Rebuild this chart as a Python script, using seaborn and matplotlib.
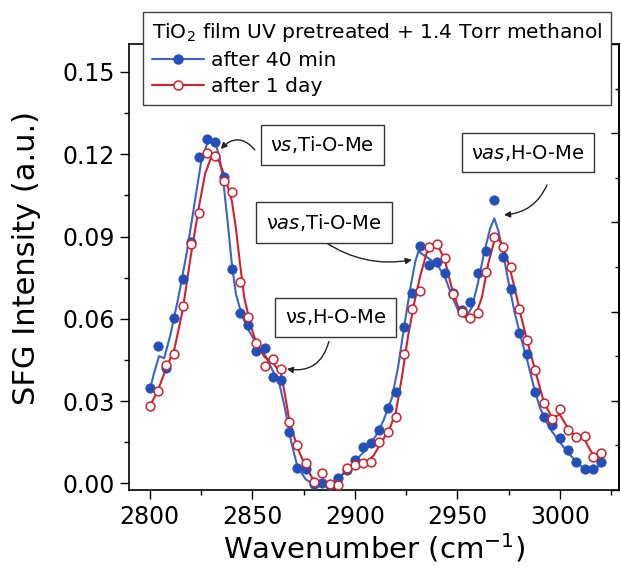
import matplotlib
matplotlib.use("Agg")
import matplotlib.pyplot as plt
from matplotlib.lines import Line2D
from matplotlib.ticker import MultipleLocator, FormatStrFormatter
import numpy as np
import pandas as pd
import seaborn as sns

# Measured SFG intensities (a.u.) vs. wavenumber (cm^-1)
wavenumber = [2800, 2804, 2808, 2812, 2816, 2820, 2824, 2828, 2832, 2836,
              2840, 2844, 2848, 2852, 2856, 2860, 2864, 2868, 2872, 2876,
              2880, 2884, 2888, 2892, 2896, 2900, 2904, 2908, 2912, 2916,
              2920, 2924, 2928, 2932, 2936, 2940, 2944, 2948, 2952, 2956,
              2960, 2964, 2968, 2972, 2976, 2980, 2984, 2988, 2992, 2996,
              3000, 3004, 3008, 3012, 3016, 3020]

after_40min = [0.0346, 0.0501, 0.0419, 0.0602, 0.0744, 0.0880, 0.1191, 0.1255, 0.1246, 0.1116,
               0.0780, 0.0620, 0.0577, 0.0484, 0.0492, 0.0387, 0.0377, 0.0188, 0.0057, 0.0051,
               -0.0003, 0.0000, -0.0006, 0.0018, 0.0048, 0.0085, 0.0134, 0.0146, 0.0194, 0.0273,
               0.0334, 0.0571, 0.0693, 0.0867, 0.0796, 0.0808, 0.0766, 0.0695, 0.0632, 0.0662,
               0.0766, 0.0847, 0.1033, 0.0826, 0.0708, 0.0547, 0.0470, 0.0334, 0.0243, 0.0213,
               0.0164, 0.0121, 0.0079, 0.0051, 0.0051, 0.0079]

after_1day = [0.0282, 0.0337, 0.0431, 0.0472, 0.0647, 0.0873, 0.0985, 0.1203, 0.1194, 0.1104,
              0.1064, 0.0735, 0.0608, 0.0511, 0.0428, 0.0452, 0.0416, 0.0222, 0.0140, 0.0074,
              0.0006, 0.0036, -0.0003, -0.0006, 0.0055, 0.0067, 0.0073, 0.0079, 0.0152, 0.0188,
              0.0240, 0.0472, 0.0635, 0.0702, 0.0863, 0.0873, 0.0820, 0.0691, 0.0623, 0.0601,
              0.0622, 0.0772, 0.0899, 0.0863, 0.0790, 0.0635, 0.0523, 0.0413, 0.0292, 0.0235,
              0.0270, 0.0194, 0.0168, 0.0172, 0.0095, 0.0109]

# Fitted spectra
fit_40min_wn = [2800, 2802, 2804.5, 2807, 2810, 2814, 2818, 2822, 2825, 2828,
                2830, 2832, 2834, 2836, 2838, 2840, 2842, 2845, 2848, 2852,
                2856, 2860, 2863, 2866, 2869, 2872, 2876, 2880, 2885, 2890,
                2895, 2900, 2905, 2910, 2914, 2918, 2921, 2924, 2927, 2929.5,
                2931, 2933, 2936, 2940, 2944, 2948, 2951, 2954, 2957, 2960,
                2963, 2966, 2968, 2970, 2972, 2975, 2978, 2981, 2984, 2987,
                2990, 2993, 2996, 3000, 3004, 3008, 3012, 3016, 3020]
fit_40min = [0.034, 0.040, 0.0464, 0.0456, 0.054, 0.068, 0.084, 0.103, 0.117, 0.124,
             0.1255, 0.124, 0.119, 0.109, 0.095, 0.080, 0.069, 0.061, 0.056, 0.051,
             0.047, 0.041, 0.037, 0.027, 0.015, 0.006, 0.0015, -0.0005, -0.001, 0.0005,
             0.004, 0.008, 0.012, 0.017, 0.023, 0.031, 0.042, 0.057, 0.071, 0.081,
             0.0845, 0.0835, 0.082, 0.080, 0.075, 0.067, 0.062, 0.0605, 0.064, 0.073,
             0.084, 0.093, 0.0966, 0.092, 0.085, 0.073, 0.062, 0.053, 0.045, 0.036,
             0.028, 0.023, 0.019, 0.015, 0.011, 0.008, 0.005, 0.0045, 0.007]

fit_1day_wn = [2800, 2804, 2808, 2812, 2816, 2820, 2824, 2827, 2830, 2832,
               2834, 2837, 2840, 2842, 2844, 2846, 2849, 2852, 2856, 2860,
               2864, 2866, 2868, 2872, 2876, 2880, 2885, 2890, 2895, 2900,
               2905, 2909, 2913, 2917, 2920, 2923, 2926, 2929, 2932, 2935,
               2938, 2941, 2944, 2947, 2950, 2953, 2956, 2959, 2962, 2965,
               2968, 2970, 2972, 2975, 2978, 2981, 2984, 2988, 2992, 2996,
               3000, 3004, 3008, 3012, 3016, 3020]
fit_1day = [0.028, 0.034, 0.042, 0.049, 0.063, 0.083, 0.101, 0.113, 0.119, 0.1195,
            0.117, 0.111, 0.103, 0.093, 0.080, 0.068, 0.058, 0.051, 0.046, 0.044,
            0.040, 0.032, 0.023, 0.013, 0.006, 0.001, 0.0005, 0.0, 0.004, 0.0065,
            0.0075, 0.010, 0.015, 0.020, 0.026, 0.039, 0.054, 0.066, 0.076, 0.084,
            0.0865, 0.086, 0.081, 0.072, 0.065, 0.061, 0.0595, 0.0615, 0.068, 0.080,
            0.0885, 0.089, 0.087, 0.080, 0.071, 0.061, 0.052, 0.041, 0.030, 0.024,
            0.025, 0.020, 0.017, 0.016, 0.0105, 0.0105]

legend_title = "TiO$_2$ film UV pretreated + 1.4 Torr methanol"
series_labels = ["after 40 min", "after 1 day"]

BLUE_DOT = "#2250b8"
BLUE_LINE = "#3b63cc"
RED = "#d4202b"

sns.set_style("ticks")
plt.rcParams["font.family"] = ["DejaVu Sans"]
plt.rcParams["mathtext.fontset"] = "dejavusans"
plt.rcParams["text.color"] = "black"
plt.rcParams["axes.labelcolor"] = "black"

fig = plt.figure(figsize=(6.21, 5.73), dpi=100)
ax = fig.add_axes([129.3 / 621, 1 - 490 / 573, (619 - 129.3) / 621, (490 - 44) / 573])

fit_blue = pd.DataFrame({"wn": fit_40min_wn, "I": fit_40min})
fit_red = pd.DataFrame({"wn": fit_1day_wn, "I": fit_1day})
pts = pd.DataFrame({"wn": wavenumber, "blue": after_40min, "red": after_1day})

sns.lineplot(data=fit_blue, x="wn", y="I", ax=ax, color=BLUE_LINE, lw=1.5,
             sort=False, estimator=None, zorder=2)
sns.lineplot(data=fit_red, x="wn", y="I", ax=ax, color=RED, lw=1.5,
             sort=False, estimator=None, zorder=2.1)
sns.scatterplot(data=pts, x="wn", y="blue", ax=ax, color=BLUE_DOT, s=46,
                edgecolor=BLUE_DOT, linewidth=0.5, zorder=3)
sns.scatterplot(data=pts, x="wn", y="red", ax=ax, facecolor="white", s=40,
                edgecolor=RED, linewidth=1.1, zorder=3.2)

ax.set_xlim(2790, 3028.8)
ax.set_ylim(-0.00244, 0.1602)
ax.xaxis.set_major_locator(MultipleLocator(50))
ax.xaxis.set_minor_locator(MultipleLocator(25))
ax.yaxis.set_major_locator(MultipleLocator(0.03))
ax.yaxis.set_minor_locator(MultipleLocator(0.015))
ax.yaxis.set_major_formatter(FormatStrFormatter("%.2f"))
ax.tick_params(which="major", direction="out", length=6.5, width=1.0,
               labelsize=17, pad=4, color="black", labelcolor="black")
ax.tick_params(which="minor", direction="out", length=3.6, width=1.0, color="black")
for sp in ax.spines.values():
    sp.set_linewidth(1.2)
    sp.set_color("black")

ax.set_xlabel("Wavenumber (cm$^{-1}$)", fontsize=21, labelpad=2)
ax.set_ylabel("SFG Intensity (a.u.)", fontsize=22)
ax.yaxis.set_label_coords(-0.18, 0.52)

# mirrored right-hand axis with inward ticks
ax2 = ax.twinx()
ax2.set_ylim(0, 10)
ax2.yaxis.set_major_locator(MultipleLocator(2))
ax2.yaxis.set_minor_locator(MultipleLocator(1))
ax2.tick_params(which="major", direction="in", length=5.8, width=1.0,
                labelright=False, color="black")
ax2.tick_params(which="minor", direction="in", length=2.9, width=1.0, color="black")
for side in ("top", "left", "bottom"):
    ax2.spines[side].set_visible(False)
ax2.spines["right"].set_linewidth(1.2)
ax2.spines["right"].set_color("black")
ax2.set_ylabel("")

# peak assignments
box = dict(boxstyle="square,pad=0.5", facecolor="white", edgecolor="#333333", linewidth=1.0)
labels = [
    ("ν$\\mathit{s}$,Ti-O-Me", (2884.1, 0.1234), (2851.2, 0.1216), (2834.6, 0.1219), 0.55),
    ("ν$\\mathit{as}$,Ti-O-Me", (2884.9, 0.0951), (2885.4, 0.0880), (2927.8, 0.0815), 0.2),
    ("ν$\\mathit{s}$,H-O-Me", (2890.5, 0.0605), (2887.3, 0.0517), (2866.8, 0.0417), -0.45),
    ("ν$\\mathit{as}$,H-O-Me", (2984.4, 0.1206), (2993.7, 0.1088), (2972.7, 0.0979), -0.3),
]
for text, center, start, end, rad in labels:
    ax.annotate("", xy=end, xytext=start,
                arrowprops=dict(arrowstyle="-|>", connectionstyle=f"arc3,rad={rad}",
                                color="#222222", lw=1.0, shrinkA=0, shrinkB=0,
                                mutation_scale=9), zorder=4)
    ax.text(center[0], center[1], text, ha="center", va="center", fontsize=14,
            bbox=box, zorder=5)

handles = [
    Line2D([], [], color=BLUE_LINE, lw=1.5, marker="o", markersize=6.5,
           markerfacecolor=BLUE_DOT, markeredgecolor=BLUE_DOT),
    Line2D([], [], color=RED, lw=1.5, marker="o", markersize=6.5,
           markerfacecolor="white", markeredgecolor=RED, markeredgewidth=1.1),
]
leg = ax2.legend(handles, series_labels, title=legend_title, loc="upper left",
                 bbox_to_anchor=(142.7 / 621, 1 - 12 / 573), bbox_transform=fig.transFigure,
                 borderaxespad=0, frameon=True, fancybox=False, framealpha=1,
                 edgecolor="#404040", fontsize=14.6, title_fontsize=14.6,
                 handlelength=2.55, handletextpad=0.35, borderpad=0.45,
                 labelspacing=0.35, alignment="left")
leg.get_frame().set_linewidth(1.0)
leg.get_title().set_color("black")
for t in leg.get_texts():
    t.set_color("black")
leg.set_zorder(10)

fig.savefig("out.png", dpi=100)
